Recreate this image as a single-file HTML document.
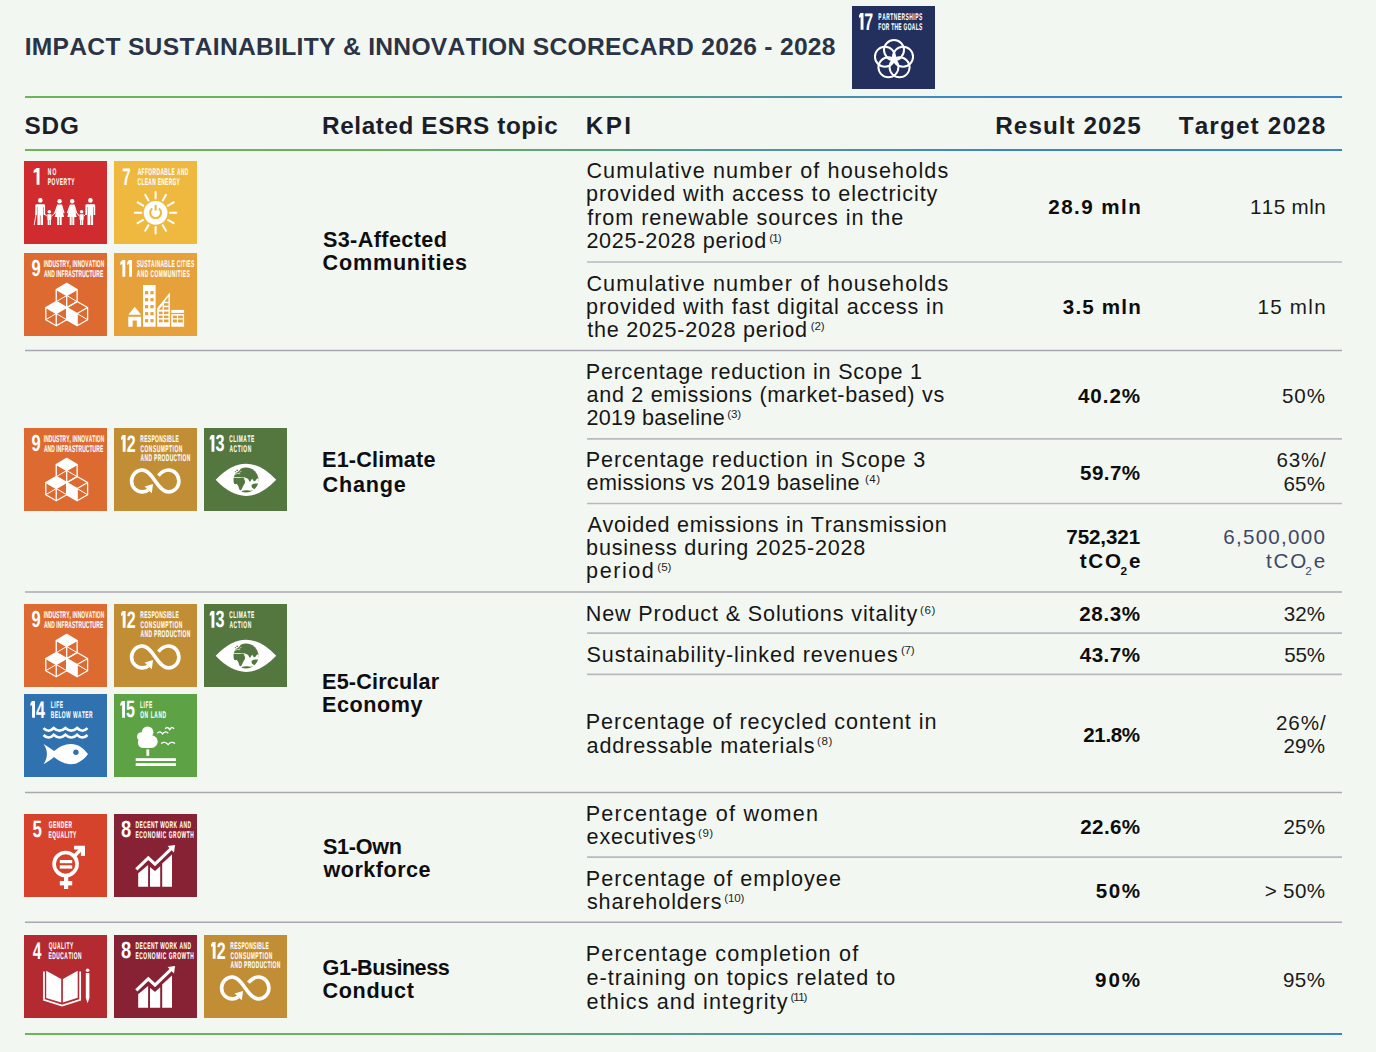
<!DOCTYPE html>
<html><head><meta charset="utf-8"><title>Impact Sustainability &amp; Innovation Scorecard</title>
<style>
html,body{margin:0;padding:0}
body{width:1376px;height:1052px;background:#f3f7f1;position:relative;overflow:hidden;font-family:"Liberation Sans",sans-serif;font-kerning:none;-webkit-font-smoothing:antialiased}
.t{position:absolute;white-space:nowrap;font-kerning:none}
.ic{position:absolute;display:block}
.ic text{font-family:"Liberation Sans",sans-serif;font-weight:bold;fill:#fff;text-rendering:geometricPrecision}
svg.lines{position:absolute;left:0;top:0}
</style></head>
<body>
<svg class="lines" width="1376" height="1052" viewBox="0 0 1376 1052">
<defs><linearGradient id="g" gradientUnits="userSpaceOnUse" x1="25" y1="0" x2="1342" y2="0"><stop offset="0" stop-color="#6db35a"/><stop offset="0.26" stop-color="#6cb25a"/><stop offset="0.74" stop-color="#3c86c7"/><stop offset="1" stop-color="#3a85c8"/></linearGradient></defs>
<rect x="25" y="96" width="1317" height="2" fill="url(#g)"/>
<rect x="25" y="149" width="1317" height="2" fill="url(#g)"/>
<rect x="25" y="1033" width="1317" height="2" fill="url(#g)"/>
<line x1="25" y1="350.5" x2="1342" y2="350.5" stroke="#a8a7b1" stroke-width="1.5"/>
<line x1="25" y1="592" x2="1342" y2="592" stroke="#a8a7b1" stroke-width="1.5"/>
<line x1="25" y1="792.6" x2="1342" y2="792.6" stroke="#a8a7b1" stroke-width="1.5"/>
<line x1="25" y1="922.2" x2="1342" y2="922.2" stroke="#a8a7b1" stroke-width="1.5"/>
<line x1="587" y1="262" x2="1342" y2="262" stroke="#b9b8c0" stroke-width="1.7"/>
<line x1="587" y1="438.8" x2="1342" y2="438.8" stroke="#b9b8c0" stroke-width="1.7"/>
<line x1="587" y1="503.5" x2="1342" y2="503.5" stroke="#b9b8c0" stroke-width="1.7"/>
<line x1="587" y1="633.2" x2="1342" y2="633.2" stroke="#b9b8c0" stroke-width="1.7"/>
<line x1="587" y1="674.3" x2="1342" y2="674.3" stroke="#b9b8c0" stroke-width="1.7"/>
<line x1="587" y1="857.1" x2="1342" y2="857.1" stroke="#b9b8c0" stroke-width="1.7"/>
</svg>
<svg class="ic" style="left:852px;top:6px" width="83" height="83" viewBox="0 0 83 83"><rect width="83" height="83" fill="#232f5c"/><path d="M8.60,7.1 H11.50 V23.7 H8.60 V11.10 L7.00,12.10 V9.50 L8.40,7.1 Z" fill="#fff"/><text x="12.31" y="23.70" font-size="24.13" textLength="8.89" lengthAdjust="spacingAndGlyphs">7</text><text transform="translate(26.37,13.90) scale(0.5,1)" font-size="9.74" letter-spacing="1.031" stroke="#fff" stroke-width="0.1">PARTNERSHIPS</text><text transform="translate(26.37,23.60) scale(0.5,1)" font-size="9.74" letter-spacing="0.630" stroke="#fff" stroke-width="0.1">FOR THE GOALS</text><circle cx="42.00" cy="44.10" r="10" fill="none" stroke="#fff" stroke-width="2"/><circle cx="51.04" cy="50.66" r="10" fill="none" stroke="#fff" stroke-width="2"/><circle cx="47.58" cy="61.29" r="10" fill="none" stroke="#fff" stroke-width="2"/><circle cx="36.42" cy="61.29" r="10" fill="none" stroke="#fff" stroke-width="2"/><circle cx="32.96" cy="50.66" r="10" fill="none" stroke="#fff" stroke-width="2"/></svg>
<svg class="ic" style="left:24px;top:161px" width="83" height="83" viewBox="0 0 83 83"><rect width="83" height="83" fill="#d02b2f"/><path d="M12.60,7.1 H15.50 V23.7 H12.60 V11.10 L9.60,12.10 V9.50 L12.40,7.1 Z" fill="#fff"/><text transform="translate(23.67,13.90) scale(0.5,1)" font-size="9.74" letter-spacing="2.453" stroke="#fff" stroke-width="0.1">NO</text><text transform="translate(23.67,23.60) scale(0.5,1)" font-size="9.74" letter-spacing="1.178" stroke="#fff" stroke-width="0.1">POVERTY</text><circle cx="16.3" cy="39.4" r="2.3" fill="#fff"/><path d="M12.700000000000001,43.2 h7.2 a1.2,1.2 0 0 1 1.2,1.2 v9.6 h-1.6 v-8 h-0.5 v18 h-2.5 v-9.5 h-0.6 v9.5 h-2.5 v-18 h-0.5 v8 h-1.6 v-9.6 a1.2,1.2 0 0 1 1.2,-1.2z" fill="#fff"/><circle cx="35.6" cy="40.2" r="2.2" fill="#fff"/><path d="M33.2,43.4 h4.8 l2.6,8.5 l-1.3,0.4 l-1.6,-5.5 l2.4,9.2 h-2.4 v8 h-2 v-8 h-0.6 v8 h-2 v-8 h-2.4 l2.4,-9.2 l-1.6,5.5 l-1.3,-0.4z" fill="#fff"/><circle cx="48.2" cy="40.2" r="2.2" fill="#fff"/><path d="M45.800000000000004,43.4 h4.8 l2.6,8.5 l-1.3,0.4 l-1.6,-5.5 l2.4,9.2 h-2.4 v8 h-2 v-8 h-0.6 v8 h-2 v-8 h-2.4 l2.4,-9.2 l-1.6,5.5 l-1.3,-0.4z" fill="#fff"/><circle cx="66.4" cy="39.4" r="2.3" fill="#fff"/><path d="M62.800000000000004,43.2 h7.2 a1.2,1.2 0 0 1 1.2,1.2 v9.6 h-1.6 v-8 h-0.5 v18 h-2.5 v-9.5 h-0.6 v9.5 h-2.5 v-18 h-0.5 v8 h-1.6 v-9.6 a1.2,1.2 0 0 1 1.2,-1.2z" fill="#fff"/><circle cx="25.3" cy="50.7" r="1.8" fill="#fff"/><path d="M23.3,53.2 h4 v5.5 h-0.4 v5.3 h-1.4 v-5 h-0.4 v5 h-1.4 v-5.3 h-0.4z" fill="#fff"/><circle cx="57.6" cy="50.7" r="1.8" fill="#fff"/><path d="M55.6,53.2 h4 v5.5 h-0.4 v5.3 h-1.4 v-5 h-0.4 v5 h-1.4 v-5.3 h-0.4z" fill="#fff"/><line x1="10.2" y1="64" x2="12.6" y2="50" stroke="#fff" stroke-width="0.9"/><path d="M20.2,52.8 L23.3,55.4 M27.3,55.4 L31.2,51.8 M52.6,51.8 L55.6,55.4 M59.6,55.4 L62.2,52.8" stroke="#fff" stroke-width="1"/></svg>
<svg class="ic" style="left:114px;top:161px" width="83" height="83" viewBox="0 0 83 83"><rect width="83" height="83" fill="#efb83f"/><text x="8.25" y="23.70" font-size="24.13" textLength="8.42" lengthAdjust="spacingAndGlyphs">7</text><text transform="translate(23.68,13.90) scale(0.5,1)" font-size="9.74" letter-spacing="0.813" stroke="#fff" stroke-width="0.1">AFFORDABLE AND</text><text transform="translate(23.60,23.60) scale(0.5,1)" font-size="9.74" letter-spacing="0.653" stroke="#fff" stroke-width="0.1">CLEAN ENERGY</text><circle cx="41.6" cy="51.8" r="11.9" fill="#fff"/><line x1="41.60" y1="37.50" x2="41.60" y2="31.00" stroke="#fff" stroke-width="2" stroke-linecap="round"/><line x1="48.75" y1="39.42" x2="52.00" y2="33.79" stroke="#fff" stroke-width="2" stroke-linecap="round"/><line x1="53.98" y1="44.65" x2="59.61" y2="41.40" stroke="#fff" stroke-width="2" stroke-linecap="round"/><line x1="55.90" y1="51.80" x2="62.40" y2="51.80" stroke="#fff" stroke-width="2" stroke-linecap="round"/><line x1="53.98" y1="58.95" x2="59.61" y2="62.20" stroke="#fff" stroke-width="2" stroke-linecap="round"/><line x1="48.75" y1="64.18" x2="52.00" y2="69.81" stroke="#fff" stroke-width="2" stroke-linecap="round"/><line x1="41.60" y1="66.10" x2="41.60" y2="72.60" stroke="#fff" stroke-width="2" stroke-linecap="round"/><line x1="34.45" y1="64.18" x2="31.20" y2="69.81" stroke="#fff" stroke-width="2" stroke-linecap="round"/><line x1="29.22" y1="58.95" x2="23.59" y2="62.20" stroke="#fff" stroke-width="2" stroke-linecap="round"/><line x1="27.30" y1="51.80" x2="20.80" y2="51.80" stroke="#fff" stroke-width="2" stroke-linecap="round"/><line x1="29.22" y1="44.65" x2="23.59" y2="41.40" stroke="#fff" stroke-width="2" stroke-linecap="round"/><line x1="34.45" y1="39.42" x2="31.20" y2="33.79" stroke="#fff" stroke-width="2" stroke-linecap="round"/><path d="M38.25,47.55 A5.4,5.4 0 1 0 44.95,47.55" fill="none" stroke="#efb83f" stroke-width="2.1"/><line x1="41.6" y1="43.9" x2="41.6" y2="49.599999999999994" stroke="#efb83f" stroke-width="2"/></svg>
<svg class="ic" style="left:24px;top:253px" width="83" height="83" viewBox="0 0 83 83"><rect width="83" height="83" fill="#dd6a30"/><text x="7.43" y="23.47" font-size="23.45" textLength="9.19" lengthAdjust="spacingAndGlyphs">9</text><text transform="translate(19.67,13.90) scale(0.5,1)" font-size="9.74" letter-spacing="0.262" stroke="#fff" stroke-width="0.1">INDUSTRY, INNOVATION</text><text transform="translate(19.88,23.60) scale(0.5,1)" font-size="9.74" letter-spacing="0.295" stroke="#fff" stroke-width="0.1">AND INFRASTRUCTURE</text><polygon points="42.70,30.40 53.15,36.45 42.70,42.50 32.25,36.45" fill="#fff"/><polygon points="42.70,30.40 53.15,36.45 53.15,48.65 42.70,54.70 32.25,48.65 32.25,36.45" fill="none" stroke="#fff" stroke-width="1.3" stroke-linejoin="round"/><polyline points="32.25,36.45 42.70,42.50 53.15,36.45" fill="none" stroke="#fff" stroke-width="1.3"/><line x1="42.70" y1="42.50" x2="42.70" y2="54.70" stroke="#fff" stroke-width="1.3"/><polyline points="32.25,48.65 42.70,42.50 53.15,48.65" fill="none" stroke="#fff" stroke-width="1.0"/><polygon points="32.25,48.45 42.70,54.50 32.25,60.55 21.80,54.50" fill="#fff"/><polygon points="32.25,48.45 42.70,54.50 42.70,66.70 32.25,72.75 21.80,66.70 21.80,54.50" fill="none" stroke="#fff" stroke-width="1.3" stroke-linejoin="round"/><polyline points="21.80,54.50 32.25,60.55 42.70,54.50" fill="none" stroke="#fff" stroke-width="1.3"/><line x1="32.25" y1="60.55" x2="32.25" y2="72.75" stroke="#fff" stroke-width="1.3"/><polyline points="21.80,66.70 32.25,60.55 42.70,66.70" fill="none" stroke="#fff" stroke-width="1.0"/><polygon points="42.70,54.50 53.15,60.55 53.15,72.75 42.70,66.70" fill="#fff"/><polygon points="53.15,48.45 63.60,54.50 63.60,66.70 53.15,72.75 42.70,66.70 42.70,54.50" fill="none" stroke="#fff" stroke-width="1.3" stroke-linejoin="round"/><polyline points="42.70,54.50 53.15,60.55 63.60,54.50" fill="none" stroke="#fff" stroke-width="1.3"/><line x1="53.15" y1="60.55" x2="53.15" y2="72.75" stroke="#fff" stroke-width="1.3"/><polyline points="42.70,66.70 53.15,60.55 63.60,66.70" fill="none" stroke="#fff" stroke-width="1.0"/></svg>
<svg class="ic" style="left:114px;top:253px" width="83" height="83" viewBox="0 0 83 83"><rect width="83" height="83" fill="#e7a13a"/><path d="M8.40,7.1 H11.30 V23.7 H8.40 V11.10 L6.30,12.10 V9.50 L8.20,7.1 Z" fill="#fff"/><path d="M15.10,7.1 H18.00 V23.7 H15.10 V11.10 L13.00,12.10 V9.50 L14.90,7.1 Z" fill="#fff"/><text transform="translate(22.76,13.90) scale(0.5,1)" font-size="9.74" letter-spacing="0.678" stroke="#fff" stroke-width="0.1">SUSTAINABLE CITIES</text><text transform="translate(22.78,23.60) scale(0.5,1)" font-size="9.74" letter-spacing="0.912" stroke="#fff" stroke-width="0.1">AND COMMUNITIES</text><path d="M14.3,73.7 V63.8 H27.1 V73.7 H22.85 V67.5 H18.65 V73.7 Z" fill="#fff"/><polygon points="14.4,61.8 20.7,53.8 27.1,61.8" fill="#fff"/><rect x="29" y="32" width="12.6" height="41.7" fill="#fff"/><rect x="31.0" y="38.1" width="3.2" height="3.2" fill="#e7a13a"/><rect x="36.4" y="38.1" width="3.2" height="3.2" fill="#e7a13a"/><rect x="31.0" y="45.1" width="3.2" height="3.2" fill="#e7a13a"/><rect x="36.4" y="45.1" width="3.2" height="3.2" fill="#e7a13a"/><rect x="31.0" y="52.1" width="3.2" height="3.2" fill="#e7a13a"/><rect x="36.4" y="52.1" width="3.2" height="3.2" fill="#e7a13a"/><rect x="31.0" y="59.1" width="3.2" height="3.2" fill="#e7a13a"/><rect x="36.4" y="59.1" width="3.2" height="3.2" fill="#e7a13a"/><rect x="31.0" y="66.1" width="3.2" height="3.2" fill="#e7a13a"/><rect x="36.4" y="66.1" width="3.2" height="3.2" fill="#e7a13a"/><polygon points="43.1,55.3 55.9,39.5 55.9,73.7 43.1,73.7" fill="#fff"/><rect x="44.85" y="58.6" width="3.71" height="2.50" fill="#e7a13a"/><rect x="44.85" y="62.6" width="3.71" height="2.50" fill="#e7a13a"/><rect x="44.85" y="66.5" width="3.71" height="2.80" fill="#e7a13a"/><rect x="50.0" y="58.6" width="4.50" height="2.50" fill="#e7a13a"/><rect x="50.0" y="62.6" width="4.50" height="2.50" fill="#e7a13a"/><rect x="50.0" y="66.5" width="4.50" height="2.80" fill="#e7a13a"/><rect x="50.0" y="50.2" width="4.5" height="2.50" fill="#e7a13a"/><rect x="50.0" y="54.2" width="4.5" height="2.50" fill="#e7a13a"/><polygon points="44.85,56.7 48.56,51.9 48.56,56.7" fill="#e7a13a"/><polygon points="50.6,48.7 54.5,43.8 54.5,48.7" fill="#e7a13a"/><rect x="57.2" y="56.9" width="12.9" height="3" fill="#fff"/><rect x="57.2" y="61.1" width="12.9" height="12.6" fill="#fff"/><rect x="58.9" y="62.6" width="4.00" height="2.70" fill="#e7a13a"/><rect x="58.9" y="66.5" width="4.00" height="3.00" fill="#e7a13a"/><rect x="64.1" y="62.6" width="4.70" height="2.70" fill="#e7a13a"/><rect x="64.1" y="66.5" width="4.70" height="3.00" fill="#e7a13a"/></svg>
<svg class="ic" style="left:24px;top:428px" width="83" height="83" viewBox="0 0 83 83"><rect width="83" height="83" fill="#dd6a30"/><text x="7.43" y="23.47" font-size="23.45" textLength="9.19" lengthAdjust="spacingAndGlyphs">9</text><text transform="translate(19.67,13.90) scale(0.5,1)" font-size="9.74" letter-spacing="0.262" stroke="#fff" stroke-width="0.1">INDUSTRY, INNOVATION</text><text transform="translate(19.88,23.60) scale(0.5,1)" font-size="9.74" letter-spacing="0.295" stroke="#fff" stroke-width="0.1">AND INFRASTRUCTURE</text><polygon points="42.70,30.40 53.15,36.45 42.70,42.50 32.25,36.45" fill="#fff"/><polygon points="42.70,30.40 53.15,36.45 53.15,48.65 42.70,54.70 32.25,48.65 32.25,36.45" fill="none" stroke="#fff" stroke-width="1.3" stroke-linejoin="round"/><polyline points="32.25,36.45 42.70,42.50 53.15,36.45" fill="none" stroke="#fff" stroke-width="1.3"/><line x1="42.70" y1="42.50" x2="42.70" y2="54.70" stroke="#fff" stroke-width="1.3"/><polyline points="32.25,48.65 42.70,42.50 53.15,48.65" fill="none" stroke="#fff" stroke-width="1.0"/><polygon points="32.25,48.45 42.70,54.50 32.25,60.55 21.80,54.50" fill="#fff"/><polygon points="32.25,48.45 42.70,54.50 42.70,66.70 32.25,72.75 21.80,66.70 21.80,54.50" fill="none" stroke="#fff" stroke-width="1.3" stroke-linejoin="round"/><polyline points="21.80,54.50 32.25,60.55 42.70,54.50" fill="none" stroke="#fff" stroke-width="1.3"/><line x1="32.25" y1="60.55" x2="32.25" y2="72.75" stroke="#fff" stroke-width="1.3"/><polyline points="21.80,66.70 32.25,60.55 42.70,66.70" fill="none" stroke="#fff" stroke-width="1.0"/><polygon points="42.70,54.50 53.15,60.55 53.15,72.75 42.70,66.70" fill="#fff"/><polygon points="53.15,48.45 63.60,54.50 63.60,66.70 53.15,72.75 42.70,66.70 42.70,54.50" fill="none" stroke="#fff" stroke-width="1.3" stroke-linejoin="round"/><polyline points="42.70,54.50 53.15,60.55 63.60,54.50" fill="none" stroke="#fff" stroke-width="1.3"/><line x1="53.15" y1="60.55" x2="53.15" y2="72.75" stroke="#fff" stroke-width="1.3"/><polyline points="42.70,66.70 53.15,60.55 63.60,66.70" fill="none" stroke="#fff" stroke-width="1.0"/></svg>
<svg class="ic" style="left:114px;top:428px" width="83" height="83" viewBox="0 0 83 83"><rect width="83" height="83" fill="#c28e35"/><path d="M8.70,7.1 H11.60 V23.7 H8.70 V11.10 L7.00,12.10 V9.50 L8.50,7.1 Z" fill="#fff"/><text x="12.65" y="23.70" font-size="23.77" textLength="8.89" lengthAdjust="spacingAndGlyphs">2</text><text transform="translate(26.37,13.90) scale(0.5,1)" font-size="9.74" letter-spacing="0.703" stroke="#fff" stroke-width="0.1">RESPONSIBLE</text><text transform="translate(26.50,23.60) scale(0.5,1)" font-size="9.74" letter-spacing="1.062" stroke="#fff" stroke-width="0.1">CONSUMPTION</text><text transform="translate(26.58,33.10) scale(0.5,1)" font-size="9.74" letter-spacing="0.787" stroke="#fff" stroke-width="0.1">AND PRODUCTION</text><path d="M44.4,47.6 C47.3,44.2 50.5,42 54.5,42 C60.3,42 64.9,46.8 64.9,53 C64.9,59.2 60.3,63.9 54.5,63.9 C49,63.9 45,58.5 41.2,53 C37.4,47.5 33.5,42 28.2,42 C22.4,42 17.6,46.8 17.6,53 C17.6,59.2 22.4,63.9 28.2,63.9 C30.6,63.9 32.6,63.1 34.3,62" fill="none" stroke="#fff" stroke-width="3.6"/><polygon points="39,55.9 30.6,58.6 37.8,65.2" fill="#fff"/></svg>
<svg class="ic" style="left:204px;top:428px" width="83" height="83" viewBox="0 0 83 83"><rect width="83" height="83" fill="#54763f"/><path d="M7.50,7.1 H10.40 V23.7 H7.50 V11.10 L5.70,12.10 V9.50 L7.30,7.1 Z" fill="#fff"/><text x="11.43" y="23.44" font-size="23.40" textLength="9.06" lengthAdjust="spacingAndGlyphs">3</text><text transform="translate(25.30,13.90) scale(0.5,1)" font-size="9.74" letter-spacing="1.084" stroke="#fff" stroke-width="0.1">CLIMATE</text><text transform="translate(25.38,23.60) scale(0.5,1)" font-size="9.74" letter-spacing="1.314" stroke="#fff" stroke-width="0.1">ACTION</text><defs><clipPath id="gclip7"><circle cx="42" cy="52" r="12.5"/></clipPath></defs><path d="M11.7,51.8 Q42,19.6 72.2,51.8 Q42,84 11.7,51.8 Z" fill="#fff"/><g fill="#54763f" clip-path="url(#gclip7)"><path d="M29.6,46.8 L31.6,44.9 L34.2,43.8 L36.2,41.8 L36.8,39.4 L57,36 L57,50 L53.8,50.4 C53,50.2 52.2,51.5 51.4,52.8 C50.8,53.6 49.7,53.3 49.1,52.2 L48.1,50.5 C47.4,51.8 46.7,53.3 45.7,53.7 C45,53.1 44.7,51.8 43.9,50.8 C43.1,49.9 42.3,50.4 41.5,49.7 L40.5,49.3 C39.5,49.6 38.5,49.3 37.6,49.4 C35,49.2 32,49.3 29.5,49.4 Z"/><path d="M27,50.0 L40.2,50.0 C40.5,51 40.8,52.4 41.1,53.5 C41.1,54.8 40.5,55.8 39.9,56.8 C39.1,58 38.5,59.6 37.8,61 C37.3,62 36.6,62.3 36,62.2 C35.2,61.6 34.9,60.2 34.5,58.6 C34.1,57.4 33.4,56.5 32.5,56.1 C30.8,56 29,56.2 27,56.5 Z"/><path d="M47.6,56.7 C49.5,55.7 52,55.4 54.6,55.6 C54.1,57.8 52.9,60 51.3,61 C49.7,61 48.3,60.2 47.6,58.7 Z"/><path d="M37.6,63.1 C40,62.1 43,62.1 45.1,62.6 C46.7,62.9 48.1,62.3 49.6,62 L50,67 L37,67 Z"/><path d="M54.6,48 L57,46 L57,54 L54.8,53.6 C54.2,52 54.2,49.5 54.6,48 Z"/></g><g fill="none" stroke="#fff"><path d="M40.3,50.4 L42.2,53.6" stroke-width="0.7"/><path d="M30.6,46.6 L33.4,45.4 L36.2,45.8" stroke-width="0.7"/><path d="M35.2,44.4 L37.6,43.2" stroke-width="0.6"/><circle cx="33.2" cy="42.4" r="0.8" fill="#547640" stroke="none"/><circle cx="31.4" cy="43.6" r="0.6" fill="#547640" stroke="none"/><path d="M53.4,50.6 L54.6,52.2" stroke-width="0.5"/></g></svg>
<svg class="ic" style="left:24px;top:604px" width="83" height="83" viewBox="0 0 83 83"><rect width="83" height="83" fill="#dd6a30"/><text x="7.43" y="23.47" font-size="23.45" textLength="9.19" lengthAdjust="spacingAndGlyphs">9</text><text transform="translate(19.67,13.90) scale(0.5,1)" font-size="9.74" letter-spacing="0.262" stroke="#fff" stroke-width="0.1">INDUSTRY, INNOVATION</text><text transform="translate(19.88,23.60) scale(0.5,1)" font-size="9.74" letter-spacing="0.295" stroke="#fff" stroke-width="0.1">AND INFRASTRUCTURE</text><polygon points="42.70,30.40 53.15,36.45 42.70,42.50 32.25,36.45" fill="#fff"/><polygon points="42.70,30.40 53.15,36.45 53.15,48.65 42.70,54.70 32.25,48.65 32.25,36.45" fill="none" stroke="#fff" stroke-width="1.3" stroke-linejoin="round"/><polyline points="32.25,36.45 42.70,42.50 53.15,36.45" fill="none" stroke="#fff" stroke-width="1.3"/><line x1="42.70" y1="42.50" x2="42.70" y2="54.70" stroke="#fff" stroke-width="1.3"/><polyline points="32.25,48.65 42.70,42.50 53.15,48.65" fill="none" stroke="#fff" stroke-width="1.0"/><polygon points="32.25,48.45 42.70,54.50 32.25,60.55 21.80,54.50" fill="#fff"/><polygon points="32.25,48.45 42.70,54.50 42.70,66.70 32.25,72.75 21.80,66.70 21.80,54.50" fill="none" stroke="#fff" stroke-width="1.3" stroke-linejoin="round"/><polyline points="21.80,54.50 32.25,60.55 42.70,54.50" fill="none" stroke="#fff" stroke-width="1.3"/><line x1="32.25" y1="60.55" x2="32.25" y2="72.75" stroke="#fff" stroke-width="1.3"/><polyline points="21.80,66.70 32.25,60.55 42.70,66.70" fill="none" stroke="#fff" stroke-width="1.0"/><polygon points="42.70,54.50 53.15,60.55 53.15,72.75 42.70,66.70" fill="#fff"/><polygon points="53.15,48.45 63.60,54.50 63.60,66.70 53.15,72.75 42.70,66.70 42.70,54.50" fill="none" stroke="#fff" stroke-width="1.3" stroke-linejoin="round"/><polyline points="42.70,54.50 53.15,60.55 63.60,54.50" fill="none" stroke="#fff" stroke-width="1.3"/><line x1="53.15" y1="60.55" x2="53.15" y2="72.75" stroke="#fff" stroke-width="1.3"/><polyline points="42.70,66.70 53.15,60.55 63.60,66.70" fill="none" stroke="#fff" stroke-width="1.0"/></svg>
<svg class="ic" style="left:114px;top:604px" width="83" height="83" viewBox="0 0 83 83"><rect width="83" height="83" fill="#c28e35"/><path d="M8.70,7.1 H11.60 V23.7 H8.70 V11.10 L7.00,12.10 V9.50 L8.50,7.1 Z" fill="#fff"/><text x="12.65" y="23.70" font-size="23.77" textLength="8.89" lengthAdjust="spacingAndGlyphs">2</text><text transform="translate(26.37,13.90) scale(0.5,1)" font-size="9.74" letter-spacing="0.703" stroke="#fff" stroke-width="0.1">RESPONSIBLE</text><text transform="translate(26.50,23.60) scale(0.5,1)" font-size="9.74" letter-spacing="1.062" stroke="#fff" stroke-width="0.1">CONSUMPTION</text><text transform="translate(26.58,33.10) scale(0.5,1)" font-size="9.74" letter-spacing="0.787" stroke="#fff" stroke-width="0.1">AND PRODUCTION</text><path d="M44.4,47.6 C47.3,44.2 50.5,42 54.5,42 C60.3,42 64.9,46.8 64.9,53 C64.9,59.2 60.3,63.9 54.5,63.9 C49,63.9 45,58.5 41.2,53 C37.4,47.5 33.5,42 28.2,42 C22.4,42 17.6,46.8 17.6,53 C17.6,59.2 22.4,63.9 28.2,63.9 C30.6,63.9 32.6,63.1 34.3,62" fill="none" stroke="#fff" stroke-width="3.6"/><polygon points="39,55.9 30.6,58.6 37.8,65.2" fill="#fff"/></svg>
<svg class="ic" style="left:204px;top:604px" width="83" height="83" viewBox="0 0 83 83"><rect width="83" height="83" fill="#54763f"/><path d="M7.50,7.1 H10.40 V23.7 H7.50 V11.10 L5.70,12.10 V9.50 L7.30,7.1 Z" fill="#fff"/><text x="11.43" y="23.44" font-size="23.40" textLength="9.06" lengthAdjust="spacingAndGlyphs">3</text><text transform="translate(25.30,13.90) scale(0.5,1)" font-size="9.74" letter-spacing="1.084" stroke="#fff" stroke-width="0.1">CLIMATE</text><text transform="translate(25.38,23.60) scale(0.5,1)" font-size="9.74" letter-spacing="1.314" stroke="#fff" stroke-width="0.1">ACTION</text><defs><clipPath id="gclip10"><circle cx="42" cy="52" r="12.5"/></clipPath></defs><path d="M11.7,51.8 Q42,19.6 72.2,51.8 Q42,84 11.7,51.8 Z" fill="#fff"/><g fill="#54763f" clip-path="url(#gclip10)"><path d="M29.6,46.8 L31.6,44.9 L34.2,43.8 L36.2,41.8 L36.8,39.4 L57,36 L57,50 L53.8,50.4 C53,50.2 52.2,51.5 51.4,52.8 C50.8,53.6 49.7,53.3 49.1,52.2 L48.1,50.5 C47.4,51.8 46.7,53.3 45.7,53.7 C45,53.1 44.7,51.8 43.9,50.8 C43.1,49.9 42.3,50.4 41.5,49.7 L40.5,49.3 C39.5,49.6 38.5,49.3 37.6,49.4 C35,49.2 32,49.3 29.5,49.4 Z"/><path d="M27,50.0 L40.2,50.0 C40.5,51 40.8,52.4 41.1,53.5 C41.1,54.8 40.5,55.8 39.9,56.8 C39.1,58 38.5,59.6 37.8,61 C37.3,62 36.6,62.3 36,62.2 C35.2,61.6 34.9,60.2 34.5,58.6 C34.1,57.4 33.4,56.5 32.5,56.1 C30.8,56 29,56.2 27,56.5 Z"/><path d="M47.6,56.7 C49.5,55.7 52,55.4 54.6,55.6 C54.1,57.8 52.9,60 51.3,61 C49.7,61 48.3,60.2 47.6,58.7 Z"/><path d="M37.6,63.1 C40,62.1 43,62.1 45.1,62.6 C46.7,62.9 48.1,62.3 49.6,62 L50,67 L37,67 Z"/><path d="M54.6,48 L57,46 L57,54 L54.8,53.6 C54.2,52 54.2,49.5 54.6,48 Z"/></g><g fill="none" stroke="#fff"><path d="M40.3,50.4 L42.2,53.6" stroke-width="0.7"/><path d="M30.6,46.6 L33.4,45.4 L36.2,45.8" stroke-width="0.7"/><path d="M35.2,44.4 L37.6,43.2" stroke-width="0.6"/><circle cx="33.2" cy="42.4" r="0.8" fill="#547640" stroke="none"/><circle cx="31.4" cy="43.6" r="0.6" fill="#547640" stroke="none"/><path d="M53.4,50.6 L54.6,52.2" stroke-width="0.5"/></g></svg>
<svg class="ic" style="left:24px;top:694px" width="83" height="83" viewBox="0 0 83 83"><rect width="83" height="83" fill="#3072b0"/><path d="M8.10,7.1 H11.00 V23.7 H8.10 V11.10 L6.40,12.10 V9.50 L7.90,7.1 Z" fill="#fff"/><text x="12.05" y="23.70" font-size="24.13" textLength="9.03" lengthAdjust="spacingAndGlyphs">4</text><text transform="translate(26.77,13.90) scale(0.5,1)" font-size="9.74" letter-spacing="1.111" stroke="#fff" stroke-width="0.1">LIFE</text><text transform="translate(26.77,23.60) scale(0.5,1)" font-size="9.74" letter-spacing="0.900" stroke="#fff" stroke-width="0.1">BELOW WATER</text><path d="M19.5,34.2 Q24.6,39.4 29.7,34.0 Q35.5,39.4 41.4,34.0 Q47.3,39.4 53.2,34.0 Q58.4,39.4 63.5,34.2" fill="none" stroke="#fff" stroke-width="2.6" stroke-linejoin="miter"/><path d="M19.5,41.0 Q24.6,46.199999999999996 29.7,40.8 Q35.5,46.199999999999996 41.4,40.8 Q47.3,46.199999999999996 53.2,40.8 Q58.4,46.199999999999996 63.5,41.0" fill="none" stroke="#fff" stroke-width="2.6" stroke-linejoin="miter"/><path d="M19.5,49.9 C22.5,51.8 26.5,54 30,57 C35,53 40.5,49.9 46.8,49.9 C54,49.9 59.5,54 64,60.1 C59.5,66.2 54,70.2 46.8,70.2 C40.5,70.2 35,67.1 30,63.1 C26.5,66.3 22.5,68.6 19.5,70.1 C22,66.5 22.9,63.2 22.9,60 C22.9,56.6 22,53.3 19.5,49.9 Z" fill="#fff"/><circle cx="51.9" cy="58.3" r="2.7" fill="#3072b0"/></svg>
<svg class="ic" style="left:114px;top:694px" width="83" height="83" viewBox="0 0 83 83"><rect width="83" height="83" fill="#5da345"/><path d="M8.10,7.1 H11.00 V23.7 H8.10 V11.10 L6.30,12.10 V9.50 L7.90,7.1 Z" fill="#fff"/><text x="12.01" y="23.47" font-size="23.79" textLength="8.94" lengthAdjust="spacingAndGlyphs">5</text><text transform="translate(26.07,13.90) scale(0.5,1)" font-size="9.74" letter-spacing="1.045" stroke="#fff" stroke-width="0.1">LIFE</text><text transform="translate(26.20,23.60) scale(0.5,1)" font-size="9.74" letter-spacing="1.241" stroke="#fff" stroke-width="0.1">ON LAND</text><circle cx="33.6" cy="38.2" r="5.8" fill="#fff"/><circle cx="27.3" cy="42.6" r="4.3" fill="#fff"/><circle cx="37.4" cy="47.6" r="6.3" fill="#fff"/><circle cx="29.3" cy="48.6" r="5.4" fill="#fff"/><circle cx="33" cy="45" r="5.5" fill="#fff"/><rect x="29" y="48" width="9" height="6" fill="#fff"/><rect x="32.4" y="55.4" width="2.8" height="6.4" fill="#fff"/><rect x="21.7" y="64.2" width="40.2" height="2.8" fill="#fff"/><rect x="21.7" y="69.2" width="40.2" height="2.8" fill="#fff"/><path d="M51.1,34.8 Q53.40,31.799999999999997 55.7,35.6 Q57.85,31.799999999999997 60,34.8" fill="none" stroke="#fff" stroke-width="1.3" stroke-linejoin="miter"/><path d="M43.3,39.2 Q45.95,36.2 48.6,39.9 Q51.45,36.2 54.3,39.2" fill="none" stroke="#fff" stroke-width="1.3" stroke-linejoin="miter"/><path d="M47.2,49.6 Q50.65,46.6 54.1,50.6 Q57.55,46.6 61,49.6" fill="none" stroke="#fff" stroke-width="1.3" stroke-linejoin="miter"/></svg>
<svg class="ic" style="left:24px;top:814px" width="83" height="83" viewBox="0 0 83 83"><rect width="83" height="83" fill="#d6432d"/><text x="8.48" y="23.47" font-size="23.79" textLength="9.39" lengthAdjust="spacingAndGlyphs">5</text><text transform="translate(24.70,13.90) scale(0.5,1)" font-size="9.74" letter-spacing="0.947" stroke="#fff" stroke-width="0.1">GENDER</text><text transform="translate(24.57,23.60) scale(0.5,1)" font-size="9.74" letter-spacing="0.911" stroke="#fff" stroke-width="0.1">EQUALITY</text><circle cx="41.6" cy="50" r="11.5" fill="none" stroke="#fff" stroke-width="3.6"/><rect x="35.8" y="46" width="12.4" height="3.2" fill="#fff"/><rect x="35.8" y="51.3" width="12.4" height="3.3" fill="#fff"/><rect x="40" y="61.6" width="4.2" height="13.4" fill="#fff"/><rect x="35.8" y="67" width="12.4" height="4.4" fill="#fff"/><line x1="50.2" y1="42.2" x2="58.8" y2="33.6" stroke="#fff" stroke-width="3.6"/><polygon points="50.1,31.7 61,31.7 61,42.1 56.9,42.1 56.9,35.6 50.1,35.6" fill="#fff"/></svg>
<svg class="ic" style="left:114px;top:814px" width="83" height="83" viewBox="0 0 83 83"><rect width="83" height="83" fill="#872235"/><text x="7.01" y="23.47" font-size="23.45" textLength="10.25" lengthAdjust="spacingAndGlyphs">8</text><text transform="translate(21.47,13.90) scale(0.5,1)" font-size="9.74" letter-spacing="0.977" stroke="#fff" stroke-width="0.1">DECENT WORK AND</text><text transform="translate(21.47,23.60) scale(0.5,1)" font-size="9.74" letter-spacing="1.135" stroke="#fff" stroke-width="0.1">ECONOMIC GROWTH</text><polyline points="22.3,55.3 34.3,43.8 41,50.1 57.6,34.1" fill="none" stroke="#fff" stroke-width="3.1" stroke-linejoin="miter"/><polygon points="61.1,30.9 53.6,32.1 60,38.5" fill="#fff"/><polygon points="24.2,59.3 34.1,51 34.1,72.7 24.2,72.7" fill="#fff"/><polygon points="36,53 41,57 46.2,52.3 46.2,72.7 36,72.7" fill="#fff"/><polygon points="48.2,49.4 58,40.6 58,72.7 48.2,72.7" fill="#fff"/></svg>
<svg class="ic" style="left:24px;top:935px" width="83" height="83" viewBox="0 0 83 83"><rect width="83" height="83" fill="#b32a30"/><text x="8.76" y="23.70" font-size="24.13" textLength="8.72" lengthAdjust="spacingAndGlyphs">4</text><text transform="translate(24.70,13.90) scale(0.5,1)" font-size="9.74" letter-spacing="1.036" stroke="#fff" stroke-width="0.1">QUALITY</text><text transform="translate(24.57,23.60) scale(0.5,1)" font-size="9.74" letter-spacing="1.002" stroke="#fff" stroke-width="0.1">EDUCATION</text><path d="M19.95,36.4 V64.9 L38.1,70.5 L56.15,64.9 V36.4" fill="none" stroke="#fff" stroke-width="1.8"/><polygon points="22.2,35.7 37.2,44.1 37.2,67.5 22.2,62.9" fill="#fff"/><polygon points="38.9,44.1 53.7,35.7 53.7,62.7 38.9,67.5" fill="#fff"/><circle cx="63.6" cy="35.3" r="1.8" fill="#fff"/><path d="M61.8,37.9 H65.4 V63.1 L63.6,68.3 L61.8,63.1 Z" fill="#fff"/></svg>
<svg class="ic" style="left:114px;top:935px" width="83" height="83" viewBox="0 0 83 83"><rect width="83" height="83" fill="#872235"/><text x="7.01" y="23.47" font-size="23.45" textLength="10.25" lengthAdjust="spacingAndGlyphs">8</text><text transform="translate(21.47,13.90) scale(0.5,1)" font-size="9.74" letter-spacing="0.977" stroke="#fff" stroke-width="0.1">DECENT WORK AND</text><text transform="translate(21.47,23.60) scale(0.5,1)" font-size="9.74" letter-spacing="1.135" stroke="#fff" stroke-width="0.1">ECONOMIC GROWTH</text><polyline points="22.3,55.3 34.3,43.8 41,50.1 57.6,34.1" fill="none" stroke="#fff" stroke-width="3.1" stroke-linejoin="miter"/><polygon points="61.1,30.9 53.6,32.1 60,38.5" fill="#fff"/><polygon points="24.2,59.3 34.1,51 34.1,72.7 24.2,72.7" fill="#fff"/><polygon points="36,53 41,57 46.2,52.3 46.2,72.7 36,72.7" fill="#fff"/><polygon points="48.2,49.4 58,40.6 58,72.7 48.2,72.7" fill="#fff"/></svg>
<svg class="ic" style="left:204px;top:935px" width="83" height="83" viewBox="0 0 83 83"><rect width="83" height="83" fill="#c28e35"/><path d="M8.70,7.1 H11.60 V23.7 H8.70 V11.10 L7.00,12.10 V9.50 L8.50,7.1 Z" fill="#fff"/><text x="12.65" y="23.70" font-size="23.77" textLength="8.89" lengthAdjust="spacingAndGlyphs">2</text><text transform="translate(26.37,13.90) scale(0.5,1)" font-size="9.74" letter-spacing="0.703" stroke="#fff" stroke-width="0.1">RESPONSIBLE</text><text transform="translate(26.50,23.60) scale(0.5,1)" font-size="9.74" letter-spacing="1.062" stroke="#fff" stroke-width="0.1">CONSUMPTION</text><text transform="translate(26.58,33.10) scale(0.5,1)" font-size="9.74" letter-spacing="0.787" stroke="#fff" stroke-width="0.1">AND PRODUCTION</text><path d="M44.4,47.6 C47.3,44.2 50.5,42 54.5,42 C60.3,42 64.9,46.8 64.9,53 C64.9,59.2 60.3,63.9 54.5,63.9 C49,63.9 45,58.5 41.2,53 C37.4,47.5 33.5,42 28.2,42 C22.4,42 17.6,46.8 17.6,53 C17.6,59.2 22.4,63.9 28.2,63.9 C30.6,63.9 32.6,63.1 34.3,62" fill="none" stroke="#fff" stroke-width="3.6"/><polygon points="39,55.9 30.6,58.6 37.8,65.2" fill="#fff"/></svg>
<div class="t" style="left:24.65px;top:32.47px;font-size:24.60px;line-height:30px;letter-spacing:0.308px;color:#2b3346;font-weight:bold;">IMPACT SUSTAINABILITY & INNOVATION SCORECARD 2026 - 2028</div>
<div class="t" style="left:24.60px;top:111.08px;font-size:24.30px;line-height:29px;letter-spacing:0.775px;color:#1b1e29;font-weight:bold;">SDG</div>
<div class="t" style="left:322.12px;top:111.08px;font-size:24.30px;line-height:29px;letter-spacing:0.593px;color:#1b1e29;font-weight:bold;">Related ESRS topic</div>
<div class="t" style="left:585.87px;top:111.08px;font-size:24.30px;line-height:29px;letter-spacing:2.372px;color:#1b1e29;font-weight:bold;">KPI</div>
<div class="t" style="left:995.27px;top:111.08px;font-size:24.30px;line-height:29px;letter-spacing:1.033px;color:#1b1e29;font-weight:bold;">Result 2025</div>
<div class="t" style="left:1178.73px;top:111.08px;font-size:24.30px;line-height:29px;letter-spacing:1.145px;color:#1b1e29;font-weight:bold;">Target 2028</div>
<div class="t" style="left:322.88px;top:226.51px;font-size:21.60px;line-height:26px;letter-spacing:0.412px;color:#0e0e10;font-weight:bold;">S3-Affected</div>
<div class="t" style="left:322.61px;top:249.51px;font-size:21.60px;line-height:26px;letter-spacing:0.771px;color:#0e0e10;font-weight:bold;">Communities</div>
<div class="t" style="left:322.06px;top:446.51px;font-size:21.60px;line-height:26px;letter-spacing:0.199px;color:#0e0e10;font-weight:bold;">E1-Climate</div>
<div class="t" style="left:322.61px;top:471.51px;font-size:21.60px;line-height:26px;letter-spacing:0.783px;color:#0e0e10;font-weight:bold;">Change</div>
<div class="t" style="left:322.06px;top:668.51px;font-size:21.60px;line-height:26px;letter-spacing:0.178px;color:#0e0e10;font-weight:bold;">E5-Circular</div>
<div class="t" style="left:322.06px;top:691.51px;font-size:21.60px;line-height:26px;letter-spacing:0.557px;color:#0e0e10;font-weight:bold;">Economy</div>
<div class="t" style="left:322.88px;top:833.51px;font-size:21.60px;line-height:26px;letter-spacing:-0.250px;color:#0e0e10;font-weight:bold;">S1-Own</div>
<div class="t" style="left:323.56px;top:856.51px;font-size:21.60px;line-height:26px;letter-spacing:0.468px;color:#0e0e10;font-weight:bold;">workforce</div>
<div class="t" style="left:322.61px;top:954.51px;font-size:21.60px;line-height:26px;letter-spacing:-0.497px;color:#0e0e10;font-weight:bold;">G1-Business</div>
<div class="t" style="left:322.61px;top:977.51px;font-size:21.60px;line-height:26px;letter-spacing:0.611px;color:#0e0e10;font-weight:bold;">Conduct</div>
<div class="t" style="left:586.40px;top:157.51px;font-size:21.60px;line-height:26px;letter-spacing:1.140px;color:#161616;">Cumulative number of households</div>
<div class="t" style="left:586.11px;top:181.01px;font-size:21.60px;line-height:26px;letter-spacing:0.906px;color:#161616;">provided with access to electricity</div>
<div class="t" style="left:587.19px;top:204.51px;font-size:21.60px;line-height:26px;letter-spacing:0.958px;color:#161616;">from renewable sources in the</div>
<div class="t" style="left:586.41px;top:228.01px;font-size:21.60px;line-height:26px;letter-spacing:0.709px;color:#161616;">2025-2028 period</div>
<div class="t" style="left:586.40px;top:270.51px;font-size:21.60px;line-height:26px;letter-spacing:1.140px;color:#161616;">Cumulative number of households</div>
<div class="t" style="left:586.11px;top:293.91px;font-size:21.60px;line-height:26px;letter-spacing:0.892px;color:#161616;">provided with fast digital access in</div>
<div class="t" style="left:587.17px;top:317.21px;font-size:21.60px;line-height:26px;letter-spacing:0.761px;color:#161616;">the 2025-2028 period</div>
<div class="t" style="left:585.73px;top:358.76px;font-size:21.60px;line-height:26px;letter-spacing:0.764px;color:#161616;">Percentage reduction in Scope 1</div>
<div class="t" style="left:586.58px;top:382.01px;font-size:21.60px;line-height:26px;letter-spacing:0.674px;color:#161616;">and 2 emissions (market-based) vs</div>
<div class="t" style="left:586.41px;top:405.26px;font-size:21.60px;line-height:26px;letter-spacing:0.315px;color:#161616;">2019 baseline</div>
<div class="t" style="left:585.73px;top:446.51px;font-size:21.60px;line-height:26px;letter-spacing:0.877px;color:#161616;">Percentage reduction in Scope 3</div>
<div class="t" style="left:586.58px;top:470.26px;font-size:21.60px;line-height:26px;letter-spacing:0.357px;color:#161616;">emissions vs 2019 baseline</div>
<div class="t" style="left:587.46px;top:511.51px;font-size:21.60px;line-height:26px;letter-spacing:0.691px;color:#161616;">Avoided emissions in Transmission</div>
<div class="t" style="left:586.11px;top:535.01px;font-size:21.60px;line-height:26px;letter-spacing:0.777px;color:#161616;">business during 2025-2028</div>
<div class="t" style="left:586.11px;top:558.26px;font-size:21.60px;line-height:26px;letter-spacing:1.548px;color:#161616;">period</div>
<div class="t" style="left:585.73px;top:600.76px;font-size:21.60px;line-height:26px;letter-spacing:0.861px;color:#161616;">New Product &amp; Solutions vitality</div>
<div class="t" style="left:586.52px;top:641.51px;font-size:21.60px;line-height:26px;letter-spacing:0.879px;color:#161616;">Sustainability-linked revenues</div>
<div class="t" style="left:585.73px;top:709.01px;font-size:21.60px;line-height:26px;letter-spacing:0.946px;color:#161616;">Percentage of recycled content in</div>
<div class="t" style="left:586.58px;top:732.51px;font-size:21.60px;line-height:26px;letter-spacing:0.832px;color:#161616;">addressable materials</div>
<div class="t" style="left:585.73px;top:801.01px;font-size:21.60px;line-height:26px;letter-spacing:1.239px;color:#161616;">Percentage of women</div>
<div class="t" style="left:586.58px;top:824.01px;font-size:21.60px;line-height:26px;letter-spacing:0.794px;color:#161616;">executives</div>
<div class="t" style="left:585.73px;top:865.51px;font-size:21.60px;line-height:26px;letter-spacing:1.004px;color:#161616;">Percentage of employee</div>
<div class="t" style="left:586.90px;top:889.26px;font-size:21.60px;line-height:26px;letter-spacing:0.887px;color:#161616;">shareholders</div>
<div class="t" style="left:585.73px;top:941.01px;font-size:21.60px;line-height:26px;letter-spacing:1.197px;color:#161616;">Percentage completion of</div>
<div class="t" style="left:586.58px;top:964.76px;font-size:21.60px;line-height:26px;letter-spacing:1.009px;color:#161616;">e-training on topics related to</div>
<div class="t" style="left:586.58px;top:988.51px;font-size:21.60px;line-height:26px;letter-spacing:1.098px;color:#161616;">ethics and integrity</div>
<div class="t" style="left:769.28px;top:231.48px;font-size:11.60px;line-height:14px;letter-spacing:-0.869px;color:#1e1e1e;">(1)</div>
<div class="t" style="left:810.78px;top:319.08px;font-size:11.60px;line-height:14px;letter-spacing:-0.119px;color:#1e1e1e;">(2)</div>
<div class="t" style="left:727.28px;top:407.13px;font-size:11.60px;line-height:14px;letter-spacing:-0.119px;color:#1e1e1e;">(3)</div>
<div class="t" style="left:865.08px;top:472.13px;font-size:11.60px;line-height:14px;letter-spacing:0.431px;color:#1e1e1e;">(4)</div>
<div class="t" style="left:657.28px;top:560.13px;font-size:11.60px;line-height:14px;letter-spacing:0.006px;color:#1e1e1e;">(5)</div>
<div class="t" style="left:920.03px;top:602.63px;font-size:11.60px;line-height:14px;letter-spacing:0.631px;color:#1e1e1e;">(6)</div>
<div class="t" style="left:900.88px;top:643.38px;font-size:11.60px;line-height:14px;letter-spacing:-0.169px;color:#1e1e1e;">(7)</div>
<div class="t" style="left:816.98px;top:734.38px;font-size:11.60px;line-height:14px;letter-spacing:0.581px;color:#1e1e1e;">(8)</div>
<div class="t" style="left:698.03px;top:825.88px;font-size:11.60px;line-height:14px;letter-spacing:0.506px;color:#1e1e1e;">(9)</div>
<div class="t" style="left:724.28px;top:891.13px;font-size:11.60px;line-height:14px;letter-spacing:-0.147px;color:#1e1e1e;">(10)</div>
<div class="t" style="left:790.53px;top:990.38px;font-size:11.60px;line-height:14px;letter-spacing:-1.230px;color:#1e1e1e;">(11)</div>
<div class="t" style="left:1048.29px;top:193.76px;font-size:20.60px;line-height:25px;letter-spacing:1.450px;color:#0d0d0d;font-weight:bold;">28.9 mln</div>
<div class="t" style="left:1062.78px;top:293.76px;font-size:20.60px;line-height:25px;letter-spacing:1.186px;color:#0d0d0d;font-weight:bold;">3.5 mln</div>
<div class="t" style="left:1077.94px;top:383.36px;font-size:20.60px;line-height:25px;letter-spacing:0.949px;color:#0d0d0d;font-weight:bold;">40.2%</div>
<div class="t" style="left:1080.12px;top:460.36px;font-size:20.60px;line-height:25px;letter-spacing:0.404px;color:#0d0d0d;font-weight:bold;">59.7%</div>
<div class="t" style="left:1066.31px;top:524.26px;font-size:20.60px;line-height:25px;letter-spacing:-0.101px;color:#0d0d0d;font-weight:bold;">752,321</div>
<div class="t" style="left:1079.29px;top:601.11px;font-size:20.60px;line-height:25px;letter-spacing:0.612px;color:#0d0d0d;font-weight:bold;">28.3%</div>
<div class="t" style="left:1079.69px;top:642.36px;font-size:20.60px;line-height:25px;letter-spacing:0.511px;color:#0d0d0d;font-weight:bold;">43.7%</div>
<div class="t" style="left:1083.29px;top:722.11px;font-size:20.60px;line-height:25px;letter-spacing:-0.388px;color:#0d0d0d;font-weight:bold;">21.8%</div>
<div class="t" style="left:1080.29px;top:814.11px;font-size:20.60px;line-height:25px;letter-spacing:0.362px;color:#0d0d0d;font-weight:bold;">22.6%</div>
<div class="t" style="left:1095.87px;top:878.36px;font-size:20.60px;line-height:25px;letter-spacing:1.523px;color:#0d0d0d;font-weight:bold;">50%</div>
<div class="t" style="left:1095.04px;top:966.61px;font-size:20.60px;line-height:25px;letter-spacing:1.939px;color:#0d0d0d;font-weight:bold;">90%</div>
<div class="t" style="left:1249.93px;top:193.76px;font-size:20.6px;line-height:25px;letter-spacing:0.403px;color:#1a1a1a">115 mln</div>
<div class="t" style="left:1257.43px;top:293.76px;font-size:20.6px;line-height:25px;letter-spacing:1.275px;color:#1a1a1a">15 mln</div>
<div class="t" style="left:1281.93px;top:383.36px;font-size:20.6px;line-height:25px;letter-spacing:0.939px;color:#1a1a1a">50%</div>
<div class="t" style="left:1276.45px;top:447.11px;font-size:20.6px;line-height:25px;letter-spacing:0.798px;color:#1a1a1a">63%/</div>
<div class="t" style="left:1283.45px;top:470.86px;font-size:20.6px;line-height:25px;letter-spacing:0.175px;color:#1a1a1a">65%</div>
<div class="t" style="left:1283.72px;top:601.11px;font-size:20.6px;line-height:25px;letter-spacing:0.044px;color:#1a1a1a">32%</div>
<div class="t" style="left:1284.18px;top:642.36px;font-size:20.6px;line-height:25px;letter-spacing:-0.186px;color:#1a1a1a">55%</div>
<div class="t" style="left:1275.96px;top:709.86px;font-size:20.6px;line-height:25px;letter-spacing:0.961px;color:#1a1a1a">26%/</div>
<div class="t" style="left:1283.46px;top:733.36px;font-size:20.6px;line-height:25px;letter-spacing:0.170px;color:#1a1a1a">29%</div>
<div class="t" style="left:1283.46px;top:814.11px;font-size:20.6px;line-height:25px;letter-spacing:0.170px;color:#1a1a1a">25%</div>
<div class="t" style="left:1264.73px;top:878.36px;font-size:20.6px;line-height:25px;letter-spacing:0.329px;color:#1a1a1a">&gt; 50%</div>
<div class="t" style="left:1283.03px;top:966.61px;font-size:20.6px;line-height:25px;letter-spacing:0.385px;color:#1a1a1a">95%</div>
<div class="t" style="left:1223.15px;top:523.96px;font-size:20.60px;line-height:25px;letter-spacing:1.288px;color:#3f4866;">6,500,000</div>
<div class="t" style="left:1079.65px;top:548.06px;font-size:20.60px;line-height:25px;letter-spacing:1.828px;color:#0d0d0d;font-weight:bold;">tCO</div>
<div class="t" style="left:1120.39px;top:563.61px;font-size:11.80px;line-height:14px;letter-spacing:0.000px;color:#0d0d0d;font-weight:bold;">2</div>
<div class="t" style="left:1129.05px;top:548.06px;font-size:20.60px;line-height:25px;letter-spacing:0.000px;color:#0d0d0d;font-weight:bold;">e</div>
<div class="t" style="left:1265.89px;top:547.96px;font-size:20.60px;line-height:25px;letter-spacing:1.937px;color:#3f4866;">tCO</div>
<div class="t" style="left:1305.21px;top:563.51px;font-size:11.80px;line-height:14px;letter-spacing:0.000px;color:#3f4866;">2</div>
<div class="t" style="left:1313.76px;top:547.96px;font-size:20.60px;line-height:25px;letter-spacing:0.000px;color:#3f4866;">e</div>
</body></html>
